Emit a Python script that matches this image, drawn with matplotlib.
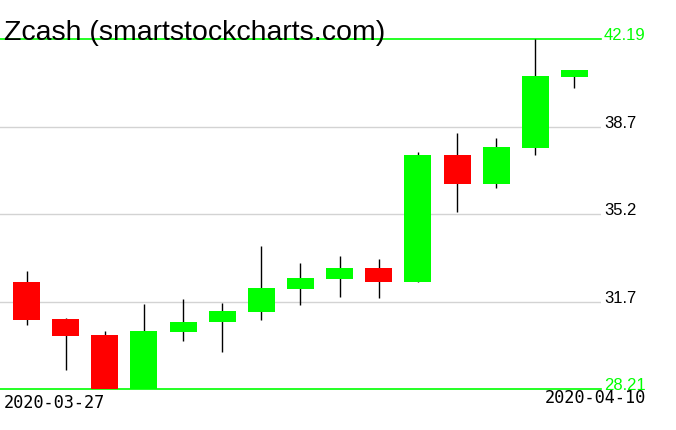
import numpy as np
import matplotlib
matplotlib.use('Agg')
from matplotlib import pyplot as plt

dates = ['2020-03-27', '2020-03-28', '2020-03-29', '2020-03-30', '2020-03-31',
         '2020-04-01', '2020-04-02', '2020-04-03', '2020-04-04', '2020-04-05',
         '2020-04-06', '2020-04-07', '2020-04-08', '2020-04-09', '2020-04-10']
opens  = [32.49, 31.01, 30.37, 28.21, 30.50, 30.90, 31.30, 32.22, 32.62, 33.05, 32.50, 37.57, 36.42, 37.86, 40.70]
highs  = [32.93, 31.03, 30.53, 31.61, 31.81, 31.65, 33.93, 33.25, 33.53, 33.41, 37.67, 38.45, 38.25, 42.19, 40.97]
lows   = [30.78, 28.98, 28.21, 28.21, 30.14, 29.70, 30.98, 31.58, 31.90, 31.86, 32.48, 35.30, 36.26, 37.58, 40.26]
closes = [30.98, 30.34, 28.21, 30.53, 30.89, 31.33, 32.25, 32.65, 33.05, 32.50, 37.57, 36.42, 37.89, 40.72, 40.96]
grid_levels = [38.7, 35.2, 31.7]
ymin, ymax = 28.21, 42.19

W, H = 676, 431
fig = plt.figure(figsize=(W / 100, H / 100), dpi=100)
ax = fig.add_axes([0, (H - 390) / H, 601 / W, (390 - 40.3) / H])
ax.set_axis_off()

o = np.array(opens); c = np.array(closes)
x = np.arange(len(dates))
up = c >= o
ax.vlines(x, lows, highs, color='black', lw=1, zorder=2)
ax.bar(x, np.where(np.abs(c - o) < 0.01, 0.02, c - o), bottom=o, width=0.69,
       color=np.where(up, '#00ff00', '#ff0000'), zorder=3)

for g in grid_levels:
    ax.axhline(g, color='#d3d3d3', lw=1, zorder=1)
ax.axhline(ymax, color='#00ff00', lw=1.2, zorder=1, clip_on=False)
ax.axhline(ymin, color='#00ff00', lw=1.2, zorder=1, clip_on=False)
ax.set_xlim(-26.5 / 39.14, (601 - 26.5) / 39.14)
ax.set_ylim(ymin, ymax)

lab = dict(family='Liberation Sans', fontsize=12, va='baseline', ha='left',
           transform=ax.get_yaxis_transform(), clip_on=False)
for g in grid_levels:
    ax.text(1.005, g, f'{g}', color='black', **lab)
ax.text(1.005, ymax, f'{ymax:.2f}', color='#00ff00', **lab)
ax.text(1.005, ymin, f'{ymin:.2f}', color='#00ff00', **lab)

fig.text(4 / W, 1 - 39.5 / H, 'Zcash (smartstockcharts.com)',
         family='Liberation Sans', fontsize=20.5, va='baseline', ha='left')

fig.text(4 / W, 1 - 394 / H, dates[0], family='DejaVu Sans Mono', fontsize=12.2,
         va='top', ha='left')
fig.text(646 / W, 1 - 389 / H, dates[-1], family='DejaVu Sans Mono', fontsize=12.2,
         va='top', ha='right')

fig.savefig('out.png', dpi=100)
